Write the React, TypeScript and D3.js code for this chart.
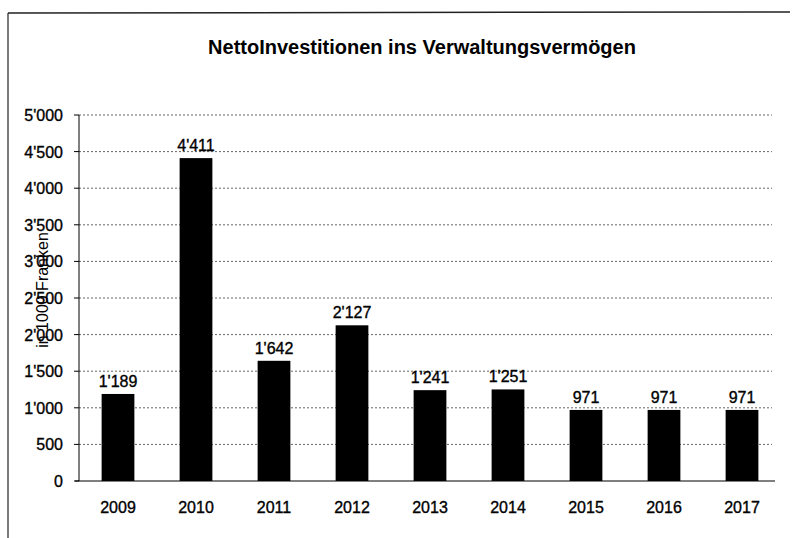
import React from "react";
import * as d3 from "d3";

const years = ["2009", "2010", "2011", "2012", "2013", "2014", "2015", "2016", "2017"];
const values = [1189, 4411, 1642, 2127, 1241, 1251, 971, 971, 971];
const yTicks = [0, 500, 1000, 1500, 2000, 2500, 3000, 3500, 4000, 4500, 5000];
const title = "NettoInvestitionen ins Verwaltungsvermögen";
const yTitle = "in 1000 Franken";

const W = 794;
const H = 538;
const fmt = (v: number) => {
  const s = String(v);
  return s.length > 3 ? s.slice(0, s.length - 3) + "'" + s.slice(-3) : s;
};

export default function App() {
  const left = 79;
  const right = 781;
  const top = 115;
  const bottom = 481;
  const x = d3.scaleBand<string>().domain(years).range([left, right]).paddingInner(0.58).paddingOuter(0.29);
  const y = d3.scaleLinear().domain([0, 5000]).range([bottom, top]);
  const font = "Arial, 'Liberation Sans', sans-serif";
  const txt = { fill: "#000", stroke: "#000", strokeWidth: 0.35 };
  return (
    <svg width={W} height={H} style={{ position: "absolute", left: 0, top: 0, background: "#fff" }} fontFamily={font}>
      <rect x={0} y={0} width={W} height={H} fill="#fff" />
      {/* frame */}
      <line x1={8} y1={13} x2={790} y2={12} stroke="#222" strokeWidth={1.5} />
      <line x1={8} y1={13} x2={8} y2={538} stroke="#222" strokeWidth={1.2} />
      <text x={422} y={54} textAnchor="middle" fontSize={20} fontWeight="bold" fill="#000">{title}</text>
      {/* gridlines */}
      {yTicks.filter(t => t > 0).map(t => (
        <line key={t} x1={left} x2={772} y1={y(t)} y2={y(t)} stroke="#666" strokeWidth={1} strokeDasharray="2,2" />
      ))}
      {/* bars */}
      {values.map((v, i) => (
        <rect key={years[i]} x={x(years[i])} y={y(v)} width={x.bandwidth()} height={bottom - y(v)} fill="#000" />
      ))}
      {values.map((v, i) => (
        <text key={"l" + i} x={(x(years[i]) as number) + x.bandwidth() / 2} y={y(v) - 7} textAnchor="middle" fontSize={16} {...txt}>{fmt(v)}</text>
      ))}
      {/* axes */}
      <line x1={left} x2={left} y1={top} y2={bottom} stroke="#000" strokeWidth={1} />
      <line x1={left - 4} x2={775} y1={bottom} y2={bottom} stroke="#000" strokeWidth={1.2} />
      {yTicks.map(t => (
        <g key={"t" + t}>
          <line x1={left - 5} x2={left} y1={y(t)} y2={y(t)} stroke="#000" />
          <text x={63} y={y(t) + 6} textAnchor="end" fontSize={16} {...txt}>{fmt(t)}</text>
        </g>
      ))}
      {years.map(yr => (
        <text key={"x" + yr} x={(x(yr) as number) + x.bandwidth() / 2} y={513} textAnchor="middle" fontSize={16} {...txt}>{yr}</text>
      ))}
      <text transform={`translate(48,290) rotate(-90)`} textAnchor="middle" fontSize={16} fill="#000">{yTitle}</text>
    </svg>
  );
}
